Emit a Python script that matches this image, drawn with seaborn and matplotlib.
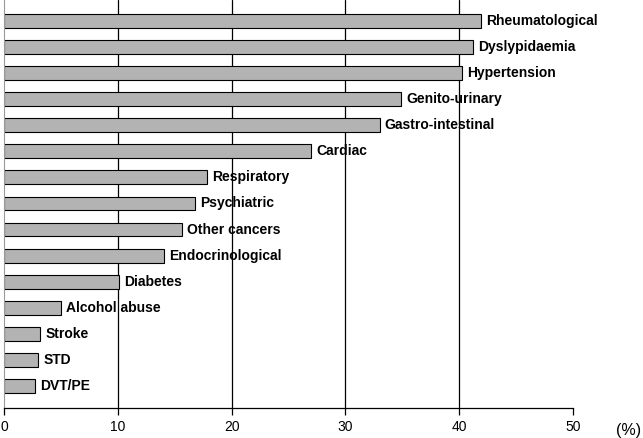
import pandas as pd
import matplotlib
matplotlib.use('Agg')
import matplotlib.pyplot as plt
import seaborn as sns

# Conditions and prevalence (%), top to bottom
conditions = ['Rheumatological', 'Dyslypidaemia', 'Hypertension', 'Genito-urinary',
              'Gastro-intestinal', 'Cardiac', 'Respiratory', 'Psychiatric',
              'Other cancers', 'Endocrinological', 'Diabetes', 'Alcohol abuse',
              'Stroke', 'STD', 'DVT/PE']
percent = [41.9, 41.2, 40.2, 34.9, 33.0, 27.0, 17.8, 16.8,
           15.6, 14.1, 10.1, 5.0, 3.2, 3.0, 2.75]
x_ticks = [0, 10, 20, 30, 40, 50]

df = pd.DataFrame({'Condition': conditions, 'Percent': percent})

sns.set_style('white')
plt.rcParams['font.family'] = ['Liberation Sans', 'DejaVu Sans']
plt.rcParams['text.color'] = 'black'
plt.rcParams['xtick.color'] = 'black'
plt.rcParams['xtick.labelcolor'] = 'black'

fig = plt.figure(figsize=(6.43, 4.38), dpi=100)
ax = fig.add_axes([0.0062, 0.0685, 0.885, 0.9315])

sns.barplot(data=df, x='Percent', y='Condition', orient='h', color='#b3b3b3',
            edgecolor='black', linewidth=0.8, width=0.53, saturation=1, ax=ax)

# Vertical reference lines at the inner ticks
for t in x_ticks[1:-1]:
    ax.axvline(t, color='black', linewidth=0.9, zorder=0)

# Labels to the right of each bar
for i, (name, val) in enumerate(zip(conditions, percent)):
    ax.text(val + 0.45, i, name, va='center', ha='left', color='black',
            fontsize=10, fontweight='bold')

ax.set_xlim(0, 50)
ax.set_ylim(len(conditions) - 1 + 0.84, -0.8)
ax.set_xticks(x_ticks)
ax.set_xticklabels([str(t) for t in x_ticks], fontsize=10, color='black')
ax.set_yticks([])
ax.set_xlabel('')
ax.set_ylabel('')
ax.tick_params(axis='x', direction='out', length=5, width=0.9, color='black',
               bottom=True, pad=4)

for s in ['top', 'right']:
    ax.spines[s].set_visible(False)
ax.spines['bottom'].set_color('black')
ax.spines['bottom'].set_linewidth(0.9)
ax.spines['left'].set_color('#999999')
ax.spines['left'].set_linewidth(0.8)

ax.text(55.95, -0.054, '(%)', transform=ax.get_xaxis_transform(),
        ha='right', va='center', fontsize=11.5, color='black')

fig.savefig('out.png', dpi=100)
